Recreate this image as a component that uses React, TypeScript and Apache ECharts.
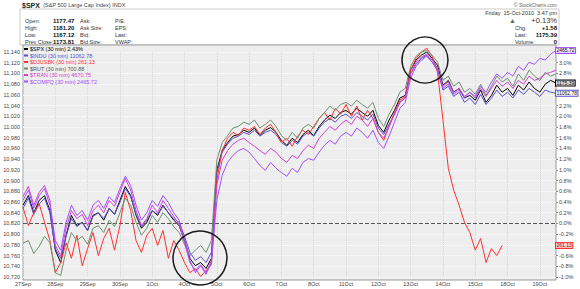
import { useEffect, useRef } from 'react';
import * as echarts from 'echarts';

const FONT = '"Liberation Sans", Arial, sans-serif';

const X_LABELS = ['27Sep', '28Sep', '29Sep', '30Sep', '1Oct', '4Oct', '5Oct', '6Oct', '7Oct', '8Oct', '11Oct', '12Oct', '13Oct', '14Oct', '15Oct', '18Oct', '19Oct'];
const SLOTS_PER_DAY = 6;
const SLOT_COUNT = 100;

const LEFT_MIN = 10720;
const LEFT_MAX = 11140;
const LEFT_STEP = 20;
const PCT_MIN = -1.0;
const PCT_MAX = 3.2;
const PCT_STEP = 0.2;

const SERIES_NAMES = ['$SPX', '$INDU', '$DJUSBK', '$RUT', '$TRAN', '$COMPQ'];
const LEGEND_VALUES = ['2.43%', '11062.78', '261.13', '700.88', '4670.75', '2465.72'];
const END_LABELS = ['1175.39', '11062.78', '261.13', '', '', '2465.72'];
const COLORS = ['#000000', '#5a4fcf', '#ff3030', '#6f8f6f', '#d040d0', '#a050ff'];
const LEGEND_TEXT_COLORS = ['#000000', '#5a4fcf', '#ff3030', '#555555', '#d040d0', '#a050ff'];
const LABEL_BG = ['#d8d8d8', '#ffffff', '#ffd0d0', '#ffffff', '#ffffff', '#f1e2ff'];

const SPX = [0.34, 0.52, 0.2, 0.43, 0.52, 0.24,
  -0.5, -0.73, -0.22, 0.15, -0.04, 0.02,
  -0.13, 0.15, 0.2, 0.06, 0.28, 0.17,
  0.43, 0.69, 0.52, 0.15, -0.09, 0.02,
  0.24, 0.15, 0.34, 0.2, 0.06, -0.04,
  -0.32, -0.65, -0.79, -0.73, -0.84, -0.65,
  0.99, 1.36, 1.51, 1.63, 1.66, 1.74,
  1.7, 1.78, 1.64, 1.74, 1.79, 1.7,
  1.55, 1.46, 1.59, 1.51, 1.66, 1.74,
  1.64, 1.81, 1.93, 2.02, 1.96, 2.07,
  2.11, 2.04, 2.15, 2.07, 2.0, 2.11,
  1.83, 1.7, 1.93, 2.11, 2.34, 2.39,
  2.86, 3.05, 3.14, 3.2, 3.08, 2.95,
  2.58, 2.67, 2.45, 2.52, 2.34, 2.39,
  2.3, 2.49, 2.26, 2.39, 2.58, 2.45,
  2.52, 2.39, 2.58, 2.49, 2.64, 2.52,
  2.45, 2.6, 2.67, 2.62];

const INDU = [0.28, 0.47, 0.17, 0.36, 0.47, 0.2,
  -0.47, -0.65, -0.24, 0.09, -0.06, 0.02,
  -0.13, 0.13, 0.2, 0.09, 0.28, 0.17,
  0.39, 0.65, 0.5, 0.17, -0.06, 0.06,
  0.24, 0.17, 0.32, 0.2, 0.09, 0.02,
  -0.24, -0.54, -0.69, -0.62, -0.73, -0.54,
  0.95, 1.33, 1.48, 1.59, 1.63, 1.7,
  1.66, 1.74, 1.63, 1.7, 1.74, 1.66,
  1.51, 1.44, 1.55, 1.48, 1.63, 1.7,
  1.63, 1.78, 1.89, 1.96, 1.89, 2.0,
  2.04, 1.96, 2.07, 2.0, 1.93, 2.04,
  1.78, 1.66, 1.85, 2.04, 2.26, 2.34,
  2.79, 2.97, 3.08, 3.14, 3.01, 2.86,
  2.49, 2.56, 2.37, 2.45, 2.26, 2.34,
  2.22, 2.41, 2.22, 2.34, 2.49, 2.37,
  2.45, 2.34, 2.49, 2.41, 2.52, 2.45,
  2.37, 2.49, 2.45, 2.43];

const BANKS = [0.3, -0.04, 0.2, 0.37, 0.02, -0.32,
  -0.92, -0.73, -0.36, -0.65, -0.22, -0.79,
  -0.47, -0.17, -0.6, -0.28, -0.09, -0.5,
  -0.04, 0.58, 0.24, -0.32, -0.54, -0.22,
  -0.09, -0.41, -0.13, -0.65, -0.32, -0.5,
  -0.73, -0.92, -0.84, -0.99, -0.88, -0.77,
  0.8, 1.36, 1.59, 1.7, 1.64, 1.78,
  1.74, 1.81, 1.66, 1.78, 1.85, 1.7,
  1.51, 1.59, 1.44, 1.63, 1.74, 1.66,
  1.81, 1.96, 2.07, 1.93, 2.15, 2.04,
  2.22, 2.0, 2.19, 1.93, 2.11, 1.96,
  1.7, 1.55, 1.81, 2.07, 2.3, 2.37,
  2.86, 3.08, 3.2, 3.27, 3.12, 2.82,
  1.93, 1.03, 0.62, 0.34, 0.02, -0.17,
  -0.5, -0.28, -0.73, -0.47, -0.6, -0.41];

const RUT = [-0.37, -0.32, -0.56, -0.43, -0.24, -0.36,
  -0.92, -0.97, -0.5, -0.17, -0.32, -0.24,
  -0.39, -0.09, -0.04, -0.17, 0.06, -0.06,
  0.2, 0.47, 0.34, 0.02, -0.22, -0.09,
  0.15, 0.02, 0.2, 0.09, -0.06, -0.17,
  -0.39, -0.6, -0.5, -0.41, -0.54, -0.32,
  1.18, 1.51, 1.64, 1.78, 1.81, 1.89,
  1.85, 1.93, 1.78, 1.85, 1.93, 1.81,
  1.64, 1.55, 1.7, 1.59, 1.78, 1.85,
  1.78, 1.96, 2.07, 2.19, 2.11, 2.22,
  2.26, 2.19, 2.3, 2.22, 2.15, 2.26,
  1.96, 1.81, 2.04, 2.22, 2.45, 2.52,
  2.93, 3.12, 3.2, 3.23, 3.14, 3.01,
  2.67, 2.75, 2.56, 2.64, 2.45, 2.52,
  2.41, 2.6, 2.39, 2.56, 2.75, 2.64,
  2.71, 2.56, 2.79, 2.67, 2.86, 2.75,
  2.67, 2.82, 2.75, 2.79];

const TRAN = [0.5, 0.69, 0.34, 0.58, 0.71, 0.43,
  -0.41, -0.6, -0.09, 0.24, 0.09, 0.17,
  -0.04, 0.24, 0.34, 0.2, 0.43, 0.32,
  0.58, 0.84, 0.62, 0.24, -0.04, 0.09,
  0.34, 0.2, 0.43, 0.28, 0.13, -0.02,
  -0.36, -0.73, -0.88, -0.77, -0.92, -0.69,
  0.71, 1.18, 1.36, 1.48, 1.55, 1.59,
  1.51, 1.44, 1.36, 1.29, 1.4, 1.33,
  1.21, 1.14, 1.27, 1.21, 1.36, 1.46,
  1.4, 1.59, 1.7, 1.81, 1.74, 1.85,
  1.93, 1.85, 2.0, 1.93, 1.81, 1.96,
  1.7, 1.59, 1.81, 2.04, 2.26, 2.34,
  2.79, 3.01, 3.1, 3.16, 3.05, 2.9,
  2.56, 2.64, 2.45, 2.52, 2.37, 2.45,
  2.34, 2.52, 2.37, 2.52, 2.67, 2.56,
  2.64, 2.52, 2.67, 2.6, 2.75, 2.67,
  2.71, 2.79, 2.82, 2.86];

const COMPQ = [0.43, 0.62, 0.28, 0.52, 0.65, 0.34,
  -0.32, -0.5, 0.02, 0.34, 0.15, 0.24,
  0.06, 0.34, 0.43, 0.28, 0.5, 0.39,
  0.65, 0.88, 0.71, 0.34, 0.06, 0.2,
  0.43, 0.32, 0.52, 0.39, 0.2, 0.06,
  -0.28, -0.69, -0.92, -0.79, -0.95, -0.73,
  0.43, 0.9, 1.14, 1.27, 1.36, 1.4,
  1.33, 1.21, 1.08, 0.99, 1.14, 1.03,
  0.95, 0.88, 1.03, 0.95, 1.14, 1.21,
  1.18, 1.33, 1.46, 1.55, 1.48, 1.63,
  1.7, 1.63, 1.78, 1.7, 1.59, 1.74,
  1.51, 1.4, 1.63, 1.89, 2.15, 2.26,
  2.71, 2.93, 3.05, 3.12, 3.01, 2.86,
  2.52, 2.6, 2.41, 2.49, 2.34, 2.45,
  2.37, 2.56, 2.45, 2.64, 2.79, 2.71,
  2.82, 2.75, 2.93, 2.86, 3.01, 2.97,
  3.08, 3.05, 3.16, 3.23];

const SERIES_DATA = [SPX, INDU, BANKS, RUT, TRAN, COMPQ];
const DRAW_ORDER = [3, 4, 5, 1, 0, 2];

const HEADER_ROWS = [
  ['Open:', '1177.47', 'Ask:', 'P/E:'],
  ['High:', '1181.20', 'Ask Size:', 'EPS:'],
  ['Low:', '1167.12', 'Bid:', 'Last:'],
  ['Prev Close:', '1173.81', 'Bid Size:', 'VWAP:'],
];
const HEADER_RIGHT = [
  ['Chg:', '+1.58'],
  ['Last:', '1175.39'],
  ['Volume:', '0'],
];

const W = 580;
const H = 289;
const GRID = { left: 23, right: 24, top: 52, bottom: 12 };

function txt(text: string, x: number, y: number, opts: any = {}) {
  return {
    type: 'text',
    x,
    y,
    silent: true,
    z: 50,
    style: {
      text,
      fontSize: opts.fontSize ?? 5.5,
      fontWeight: opts.fontWeight ?? 'normal',
      fontFamily: FONT,
      fill: opts.fill ?? '#333',
      align: opts.align ?? 'left',
      textAlign: opts.align ?? 'left',
      verticalAlign: 'middle',
      textVerticalAlign: 'middle',
    },
  };
}

export default function App() {
  const ref = useRef<HTMLDivElement>(null);

  useEffect(() => {
    const chart = echarts.init(ref.current!, null, { renderer: 'svg' });
    const categories = Array.from({ length: SLOT_COUNT }, (_, i) =>
      `${X_LABELS[Math.floor(i / SLOTS_PER_DAY)]}|${i % SLOTS_PER_DAY}`);
    const plotW = W - GRID.left - GRID.right;
    const slotW = plotW / (SLOT_COUNT - 1);

    // last values of the series that carry a price box on the right axis
    const boxedLast = SERIES_DATA
      .map((d, i) => (END_LABELS[i] !== '' ? d[d.length - 1] : null))
      .filter((v) => v !== null) as number[];

    const series = DRAW_ORDER.map((idx) => {
      const data = SERIES_DATA[idx];
      const gap = (SLOT_COUNT - data.length) * slotW;
      const s: any = {
        name: SERIES_NAMES[idx],
        type: 'line',
        yAxisIndex: 1,
        data,
        symbol: 'none',
        clip: false,
        lineStyle: { color: COLORS[idx], width: 1 },
        itemStyle: { color: COLORS[idx] },
        z: 3 + idx,
        endLabel: {
          show: END_LABELS[idx] !== '',
          formatter: () => END_LABELS[idx],
          fontSize: 5,
          fontFamily: FONT,
          color: idx === 2 ? '#a00000' : '#111',
          backgroundColor: LABEL_BG[idx],
          borderColor: COLORS[idx],
          borderWidth: 1,
          padding: [0, 0.5],
          distance: 1,
          offset: [gap - 1, 0],
        },
      };
      if (idx === 0) {
        s.markLine = {
          silent: true,
          symbol: ['none', 'none'],
          label: { show: false },
          lineStyle: { color: '#555', type: 'dashed', width: 1 },
          data: [{ yAxis: 0 }],
        };
      }
      return s;
    });

    const graphic: any[] = [
      { type: 'rect', z: -100, silent: true, shape: { x: 20, y: 9, width: 539, height: 36 }, style: { fill: '#ffffff', stroke: '#cccccc', lineWidth: 1 } },
      { type: 'rect', z: -99, silent: true, shape: { x: GRID.left, y: 45, width: plotW, height: 235 }, style: { fill: '#eeeeee', stroke: '#999999', lineWidth: 1 } },
      {
        type: 'text', x: 22, y: 5, silent: true, z: 50,
        style: {
          text: '{b|$SPX} {n|(S&P 500 Large Cap Index) INDX}',
          rich: {
            b: { fontSize: 7, fontWeight: 'bold', fontFamily: FONT, fill: '#222' },
            n: { fontSize: 5.5, fontFamily: FONT, fill: '#444' },
          },
          verticalAlign: 'middle', textVerticalAlign: 'middle',
        },
      },
      txt('© StockCharts.com', 557, 5, { align: 'right', fill: '#666', fontSize: 5 }),
      txt('Friday  15-Oct-2010  3:47 pm', 557, 13, { align: 'right', fill: '#333' }),
      txt('▲', 509, 20, { fill: '#666', fontSize: 7 }),
      txt('+0.13%', 557, 20, { align: 'right', fill: '#333', fontSize: 7.5 }),
      { type: 'circle', z: 60, silent: true, shape: { cx: 200, cy: 258, r: 27 }, style: { fill: 'none', stroke: '#1a1a1a', lineWidth: 1.5 } },
      { type: 'circle', z: 60, silent: true, shape: { cx: 425, cy: 60, r: 23 }, style: { fill: 'none', stroke: '#1a1a1a', lineWidth: 1.5 } },
    ];
    const rowY = [21, 28, 35, 42];
    HEADER_ROWS.forEach((row, r) => {
      graphic.push(txt(row[0], 25, rowY[r]));
      graphic.push(txt(row[1], 53, rowY[r], { fontWeight: 'bold', fill: '#111', fontSize: 6 }));
      graphic.push(txt(row[2], 80, rowY[r]));
      graphic.push(txt(row[3], 115, rowY[r]));
    });
    HEADER_RIGHT.forEach((row, r) => {
      graphic.push(txt(row[0], 515, rowY[r + 1]));
      graphic.push(txt(row[1], 557, rowY[r + 1], { align: 'right', fontWeight: 'bold', fill: '#111', fontSize: 6 }));
    });

    const option: any = {
      animation: false,
      textStyle: { fontFamily: FONT },
      grid: { ...GRID, containLabel: false },
      legend: {
        orient: 'vertical',
        left: 24,
        top: 46,
        padding: 0,
        itemGap: 0.5,
        itemWidth: 4,
        itemHeight: 2,
        icon: 'rect',
        selectedMode: false,
        data: SERIES_NAMES.map((n, i) => ({ name: n, textStyle: { color: LEGEND_TEXT_COLORS[i] } })),
        formatter: (name: string) => `${name} (30 min) ${LEGEND_VALUES[SERIES_NAMES.indexOf(name)]}`,
        textStyle: { fontSize: 5.5, fontFamily: FONT, padding: [0, 0, 0, -3], lineHeight: 6 },
      },
      xAxis: {
        type: 'category',
        data: categories,
        boundaryGap: false,
        axisLine: { show: false },
        axisTick: { show: false },
        axisLabel: {
          interval: (i: number) => i % SLOTS_PER_DAY === 0,
          formatter: (v: string) => v.split('|')[0],
          fontSize: 5.5,
          color: '#444',
          margin: 4,
          fontFamily: FONT,
        },
        splitLine: {
          show: true,
          interval: (i: number) => i % SLOTS_PER_DAY === 0,
          lineStyle: { color: '#d6d6d6', type: 'dotted', width: 1 },
        },
      },
      yAxis: [
        {
          type: 'value',
          position: 'left',
          min: LEFT_MIN,
          max: LEFT_MAX,
          interval: LEFT_STEP,
          axisLine: { show: false },
          axisTick: { show: false },
          axisLabel: { fontSize: 5.5, color: '#444', margin: 3, fontFamily: FONT },
          splitLine: { show: true, lineStyle: { color: '#ffffff', type: 'dotted', width: 1 } },
        },
        {
          type: 'value',
          position: 'right',
          min: PCT_MIN,
          max: PCT_MAX,
          interval: PCT_STEP,
          axisLine: { show: false },
          axisTick: { show: true, length: 2, lineStyle: { color: '#888' } },
          axisLabel: {
            fontSize: 5.5, color: '#444', margin: 3, fontFamily: FONT,
            // tick labels hidden behind the price boxes are left out
            formatter: (v: number) =>
              boxedLast.some((b) => Math.abs(b - v) < 0.1) ? '' : `${v.toFixed(1)}%`,
          },
          splitLine: { show: false },
        },
      ],
      series,
      graphic,
    };
    chart.setOption(option);
    return () => chart.dispose();
  }, []);

  return <div ref={ref} style={{ position: 'absolute', left: 0, top: 0, width: W, height: H }} />;
}
